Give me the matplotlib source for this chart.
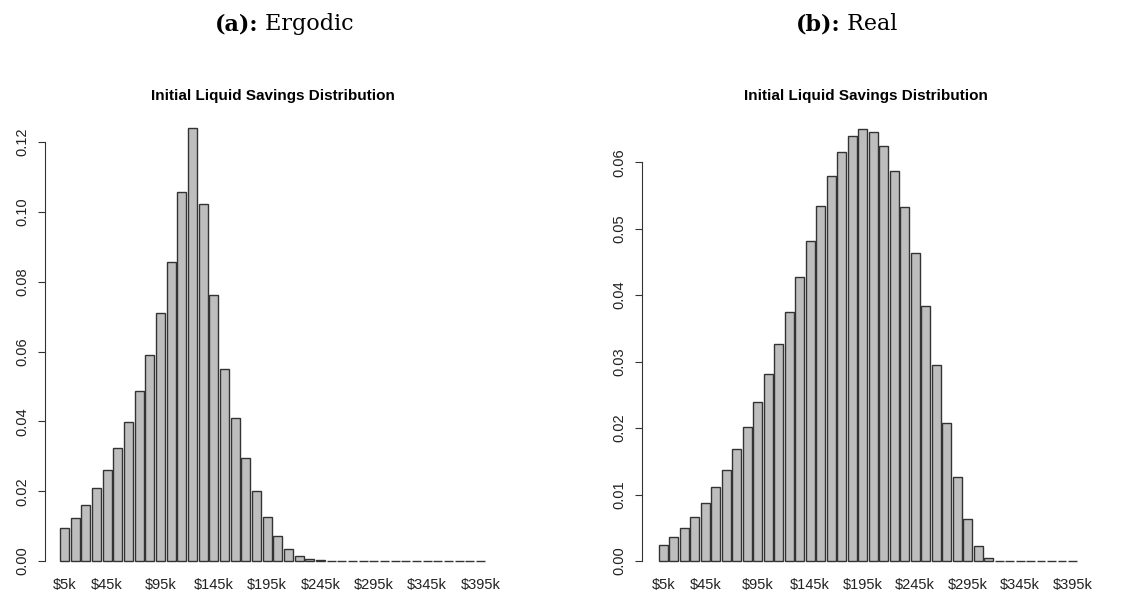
import matplotlib
matplotlib.use("Agg")
import matplotlib.pyplot as plt
import numpy as np

bins = [f"${5+10*i}k" for i in range(40)]
shown_labels = ["$5k", "$45k", "$95k", "$145k", "$195k", "$245k", "$295k", "$345k", "$395k"]
ergodic = [0.0096, 0.0124, 0.0161, 0.0208, 0.0262, 0.0325, 0.0399, 0.0487, 0.0589, 0.0711,
           0.0856, 0.1057, 0.1240, 0.1022, 0.0762, 0.0550, 0.0411, 0.0294, 0.0200, 0.0126,
           0.0071, 0.0034, 0.0013, 0.0005, 0.0002] + [0.0] * 15
real = [0.0024, 0.0036, 0.0050, 0.0067, 0.0088, 0.0111, 0.0137, 0.0168, 0.0201, 0.0240,
        0.0281, 0.0326, 0.0375, 0.0427, 0.0481, 0.0534, 0.0579, 0.0616, 0.0639, 0.0650,
        0.0645, 0.0625, 0.0587, 0.0533, 0.0464, 0.0383, 0.0295, 0.0207, 0.0127, 0.0063,
        0.0022, 0.0005] + [0.0] * 8

W, H = 1139, 602
fig = plt.figure(figsize=(W/100, H/100), dpi=100)
plt.rcParams['font.family'] = ['Liberation Sans', 'DejaVu Sans']

def panel(px_left, px_right, data, xlim, ylim, yticks, yfmt, sub_letter, sub_name, sub_x):
    ax = fig.add_axes([px_left/W, (H-575)/H, (px_right-px_left)/W, 450/H])
    x = 0.7 + 1.2*np.arange(len(data))
    ax.bar(x, data, width=1.0, color='#bebebe', edgecolor='#333333', linewidth=1.0)
    ax.set_xlim(*xlim); ax.set_ylim(*ylim)
    for s in ['top', 'right', 'bottom']:
        ax.spines[s].set_visible(False)
    ax.spines['left'].set_bounds(yticks[0], yticks[-1])
    ax.spines['left'].set_color('#333333')
    ax.set_yticks(yticks)
    ax.set_yticklabels([yfmt.format(v) for v in yticks], rotation=90, va='center', fontsize=10.5, color='#222222')
    ax.tick_params(axis='y', length=5, color='#333333', pad=6)
    idx = [bins.index(l) for l in shown_labels]
    ax.set_xticks(x[idx])
    ax.set_xticklabels(shown_labels, fontsize=10.5, color='#222222')
    ax.tick_params(axis='x', length=0, pad=2)
    ax.set_title("Initial Liquid Savings Distribution", fontsize=11, fontweight='bold', pad=18)
    fig.text(sub_x/W, 1-24/H, sub_letter, fontsize=16, fontweight='bold', family='DejaVu Serif', ha='right', va='center')
    fig.text(sub_x/W, 1-24/H, " " + sub_name, fontsize=16, family='DejaVu Serif', ha='left', va='center')

panel(45, 500, ergodic, (-1.49, 49.69), (-0.004, 0.1249), [0, 0.02, 0.04, 0.06, 0.08, 0.10, 0.12], "{:.2f}", "(a):", "Ergodic", 258)
panel(642, 1090, real, (-1.74, 49.49), (-0.0021, 0.0656), [0, 0.01, 0.02, 0.03, 0.04, 0.05, 0.06], "{:.2f}", "(b):", "Real", 840)

fig.savefig("out.png", dpi=100)
